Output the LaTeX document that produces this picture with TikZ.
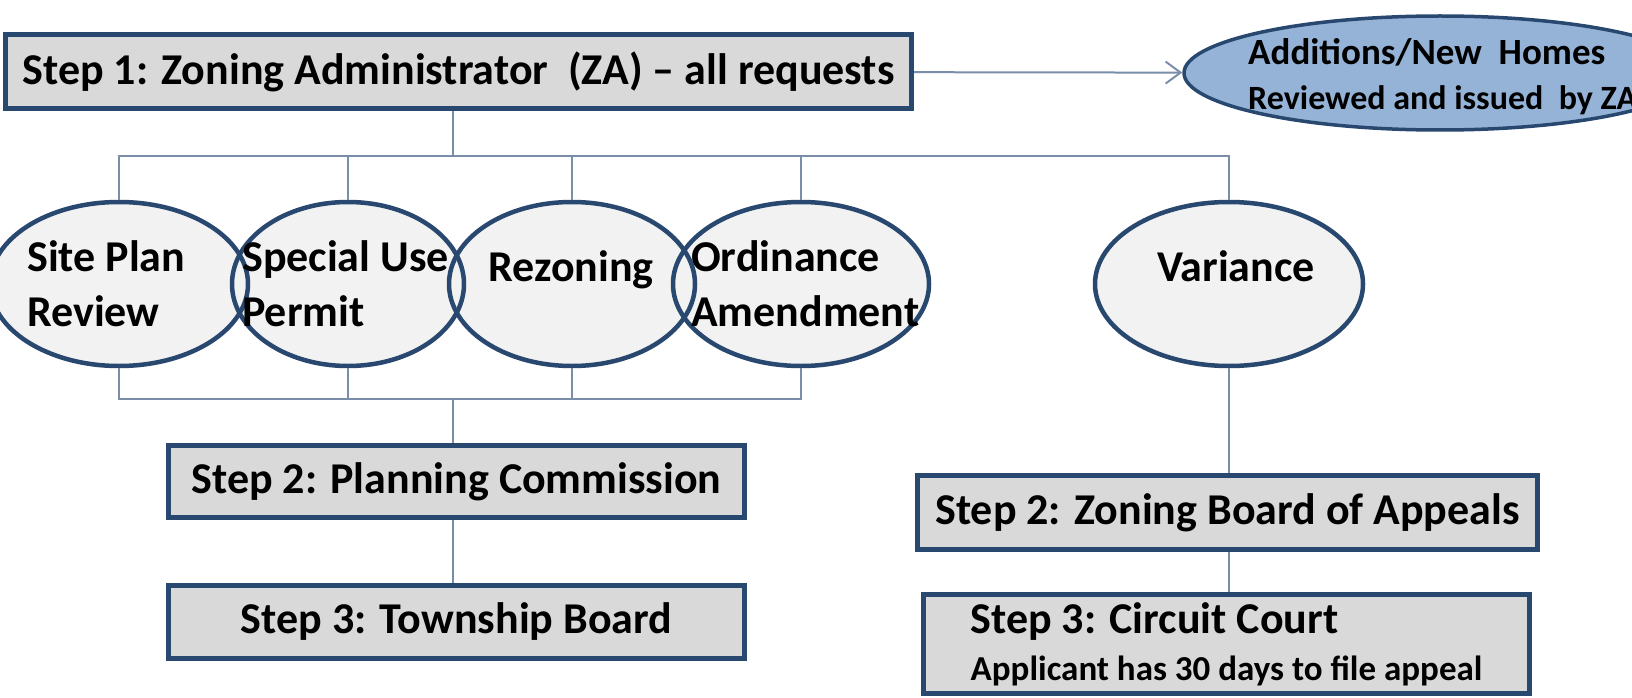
\documentclass[tikz,border=0pt]{standalone}
\usepackage{fontspec}
\setmainfont{Carlito}
\definecolor{navy}{RGB}{41,72,112}
\definecolor{boxgrey}{RGB}{217,217,217}
\definecolor{ovalgrey}{RGB}{242,242,242}
\definecolor{skyblue}{RGB}{149,179,215}
\definecolor{linkgrey}{RGB}{122,142,170}
\usepackage{tikz}
\usetikzlibrary{positioning,shapes,arrows.meta,backgrounds,calc}

\begin{document}
\begin{tikzpicture}[
    x=1pt, y=-1pt,
    stepbox/.style={rectangle, draw=navy, line width=5pt, fill=boxgrey, inner sep=0pt, align=left, font=\bfseries\fontsize{44}{47}\selectfont},
    oval/.style={ellipse, draw=navy, line width=4.5pt, minimum height=164pt, inner sep=0pt},
    ovaltext/.style={align=left, inner sep=0pt, font=\bfseries\fontsize{44}{55}\selectfont},
    link/.style={draw=linkgrey, line width=2pt},
    arrow/.style={link, -{Straight Barb[length=15pt, width=22pt]}}
]
\useasboundingbox (0,0) rectangle (1632,698);

% Nodes
\node (step1) [stepbox, minimum width=906pt, minimum height=74pt] at (458.5,71.5) {Step 1: Zoning Administrator\ \ (ZA) – all requests};
\node (homes) [ellipse, draw=navy, line width=3.5pt, fill=skyblue, minimum width=512pt, minimum height=114pt, inner sep=0pt] at (1440,73) {};
\node (homestxt) [align=left, inner sep=0pt, anchor=west, font=\bfseries\fontsize{37}{45}\selectfont] at (1248,77) {Additions/New\ \ Homes\\{\fontsize{34}{45}\selectfont Reviewed and issued\ \ by ZA}};

\node (site) [oval, minimum width=258pt] at (119,284) {};
\node (special) [oval, minimum width=232pt] at (348,284) {};
\node (rezone) [oval, minimum width=246pt] at (572,284) {};
\node (ordin) [oval, minimum width=256pt] at (801,284) {};
\node (variance) [oval, minimum width=268pt] at (1229,284) {};

\node (sitetxt) [ovaltext, anchor=west] at (27,284) {Site Plan\\Review};
\node (specialtxt) [ovaltext, anchor=west] at (242,284) {Special Use\\Permit};
\node (rezonetxt) [ovaltext, anchor=base] at (571,281) {Rezoning};
\node (ordintxt) [ovaltext, anchor=west] at (691,284) {Ordinance\\Amendment};
\node (variancetxt) [ovaltext, anchor=base] at (1236,281) {Variance};

\node (step2pc) [stepbox, minimum width=576pt, minimum height=72pt] at (456.5,481.5) {Step 2: Planning Commission};
\node (step3tb) [stepbox, minimum width=576pt, minimum height=73pt] at (456.5,622) {Step 3: Township Board};
\node (step2zba) [stepbox, minimum width=620pt, minimum height=74pt] at (1227.5,512.5) {Step 2: Zoning Board of Appeals};
\node (step3cc) [stepbox, minimum width=606pt, minimum height=99pt] at (1226.5,644) {Step 3: Circuit Court\\{\fontsize{35}{47}\selectfont Applicant has 30 days to file appeal}};

% fills of the ovals go underneath, so every rim stays visible
\begin{scope}[on background layer]
  \foreach \o in {site,special,rezone,ordin,variance}
    \fill[ovalgrey] let \p1=($(\o.east)-(\o.center)$), \p2=($(\o.north)-(\o.center)$) in (\o.center) ellipse [x radius=\x1, y radius=\y2];
\end{scope}

% Arrows
\coordinate (topbus) at (453,156);
\coordinate (lowbus) at (453,399);
\draw [arrow] (step1) -- (homes);
\draw [link] (step1.south -| topbus) -- (topbus);
\foreach \o in {site,special,rezone,ordin,variance}
  \draw [link] (topbus) -| (\o);
\foreach \o in {site,special,rezone,ordin}
  \draw [link] (\o) |- (lowbus);
\draw [link] (lowbus) -- (lowbus |- step2pc.north);
\draw [link] (step2pc.south -| lowbus) -- (step3tb.north -| lowbus);
\draw [link] (variance) -- (variance |- step2zba.north);
\draw [link] (step2zba.south -| variance) -- (step3cc.north -| variance);

\end{tikzpicture}
\end{document}
